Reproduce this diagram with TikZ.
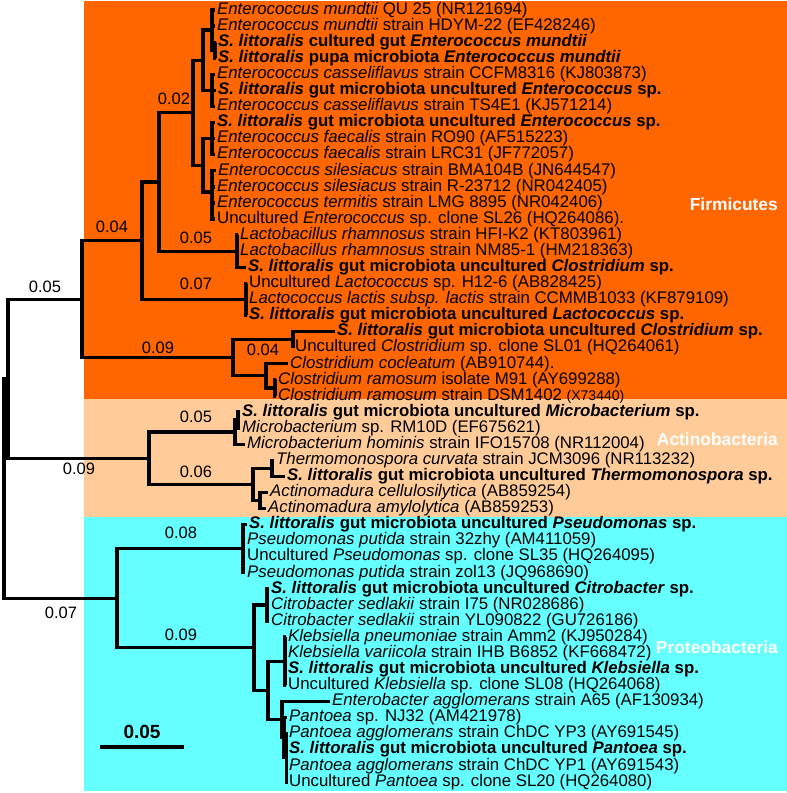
\documentclass[tikz,border=0pt]{standalone}
\usepackage{fontspec}
\setmainfont{Liberation Sans}
\definecolor{firmc}{HTML}{FF6600}
\definecolor{actc}{HTML}{FFCC99}
\definecolor{protc}{HTML}{66FFFF}
\newcommand\slgut[1]{\textbf{\textit{S. littoralis} gut microbiota uncultured \textit{#1} sp.}}
\begin{document}
\begin{tikzpicture}[x=1pt,y=-1pt,
  leaf/.style={anchor=west,inner xsep=2pt,inner ysep=0pt,text height=12pt,text depth=3.5pt,font=\fontsize{16.8}{16.8}\selectfont},
  blab/.style={inner sep=0pt,text height=11.8pt,text depth=0pt,font=\fontsize{16.5}{16.5}\selectfont},
  br/.style={line width=3.3pt,black},
  grp/.style={anchor=east,text=white,inner sep=0pt,text height=12.5pt,text depth=0pt,font=\fontsize{17.4}{17.4}\selectfont\bfseries}]
\useasboundingbox (0,0) rectangle (787,793);
\fill[white] (0,0) rectangle (787,793);
\fill[firmc] (84,1) rectangle (787,399);
\fill[actc] (84,399) rectangle (787,517);
\fill[protc] (84,517) rectangle (787,791);

% leaves
\node[leaf] (t1) at (215,10.0) {\textit{Enterococcus mundtii} QU 25 (NR121694)};
\node[leaf] (t2) at (215,26.08) {\textit{Enterococcus mundtii} strain HDYM-22 (EF428246)};
\node[leaf] (t3) at (216,42.16) {\textbf{\textit{S. littoralis} cultured gut \textit{Enterococcus mundtii}}};
\node[leaf] (t4) at (216,58.24) {\textbf{\textit{S. littoralis} pupa microbiota \textit{Enterococcus mundtii}}};
\node[leaf] (t5) at (215,74.32) {\textit{Enterococcus casseliflavus} strain CCFM8316 (KJ803873)};
\node[leaf] (t6) at (216,90.4) {\slgut{Enterococcus}};
\node[leaf] (t7) at (215,106.48) {\textit{Enterococcus casseliflavus} strain TS4E1 (KJ571214)};
\node[leaf] (t8) at (215,122.56) {\slgut{Enterococcus}};
\node[leaf] (t9) at (215,138.64) {\textit{Enterococcus faecalis} strain RO90 (AF515223)};
\node[leaf] (t10) at (215,154.72) {\textit{Enterococcus faecalis} strain LRC31 (JF772057)};
\node[leaf] (t11) at (216,170.8) {\textit{Enterococcus silesiacus} strain BMA104B (JN644547)};
\node[leaf] (t12) at (215,186.88) {\textit{Enterococcus silesiacus} strain R-23712 (NR042405)};
\node[leaf] (t13) at (215,202.96) {\textit{Enterococcus termitis} strain LMG 8895 (NR042406)};
\node[leaf] (t14) at (215,219.04) {Uncultured \textit{Enterococcus} sp. clone SL26 (HQ264086).};
\node[leaf] (t15) at (238,235.12) {\textit{Lactobacillus rhamnosus} strain HFI-K2 (KT803961)};
\node[leaf] (t16) at (238,251.2) {\textit{Lactobacillus rhamnosus} strain NM85-1 (HM218363)};
\node[leaf] (t17) at (246,267.28) {\slgut{Clostridium}};
\node[leaf] (t18) at (247,283.36) {Uncultured \textit{Lactococcus} sp. H12-6 (AB828425)};
\node[leaf] (t19) at (247,299.44) {\textit{Lactococcus lactis subsp. lactis} strain CCMMB1033 (KF879109)};
\node[leaf] (t20) at (247,315.52) {\slgut{Lactococcus}};
\node[leaf] (t21) at (335,331.6) {\slgut{Clostridium}};
\node[leaf] (t22) at (293,347.68) {Uncultured \textit{Clostridium} sp. clone SL01 (HQ264061)};
\node[leaf] (t23) at (288,363.76) {\textit{Clostridium cocleatum} (AB910744).};
\node[leaf] (t24) at (276,379.84) {\textit{Clostridium ramosum} isolate M91 (AY699288)};
\node[leaf] (t25) at (276,395.92) {\textit{Clostridium ramosum} strain DSM1402 {\fontsize{14}{14}\selectfont (X73440)}};
\node[leaf] (t26) at (240,412.0) {\slgut{Microbacterium}};
\node[leaf] (t27) at (240,428.08) {\textit{Microbacterium} sp. RM10D (EF675621)};
\node[leaf] (t28) at (245,444.16) {\textit{Microbacterium hominis} strain IFO15708 (NR112004)};
\node[leaf] (t29) at (274,460.24) {\textit{Thermomonospora curvata} strain JCM3096 (NR113232)};
\node[leaf] (t30) at (285,476.32) {\slgut{Thermomonospora}};
\node[leaf] (t31) at (268,492.4) {\textit{Actinomadura cellulosilytica} (AB859254)};
\node[leaf] (t32) at (266,508.48) {\textit{Actinomadura amylolytica} (AB859253)};
\node[leaf] (t33) at (247,524.56) {\slgut{Pseudomonas}};
\node[leaf] (t34) at (245,540.64) {\textit{Pseudomonas putida} strain 32zhy (AM411059)};
\node[leaf] (t35) at (245,556.72) {Uncultured \textit{Pseudomonas} sp. clone SL35 (HQ264095)};
\node[leaf] (t36) at (245,572.8) {\textit{Pseudomonas putida} strain zol13 (JQ968690)};
\node[leaf] (t37) at (269,588.88) {\slgut{Citrobacter}};
\node[leaf] (t38) at (269,604.96) {\textit{Citrobacter sedlakii} strain I75 (NR028686)};
\node[leaf] (t39) at (269,621.04) {\textit{Citrobacter sedlakii} strain YL090822 (GU726186)};
\node[leaf] (t40) at (286,637.12) {\textit{Klebsiella pneumoniae} strain Amm2 (KJ950284)};
\node[leaf] (t41) at (286,653.2) {\textit{Klebsiella variicola} strain IHB B6852 (KF668472)};
\node[leaf] (t42) at (286,669.28) {\slgut{Klebsiella}};
\node[leaf] (t43) at (286,685.36) {Uncultured \textit{Klebsiella} sp. clone SL08 (HQ264068)};
\node[leaf] (t44) at (330,701.44) {\textit{Enterobacter agglomerans} strain A65 (AF130934)};
\node[leaf] (t45) at (287,717.52) {\textit{Pantoea} sp. NJ32 (AM421978)};
\node[leaf] (t46) at (287,733.6) {\textit{Pantoea agglomerans} strain ChDC YP3 (AY691545)};
\node[leaf] (t47) at (287,749.68) {\slgut{Pantoea}};
\node[leaf] (t48) at (287,765.76) {\textit{Pantoea agglomerans} strain ChDC YP1 (AY691543)};
\node[leaf] (t49) at (287,781.84) {Uncultured \textit{Pantoea} sp. clone SL20 (HQ264080)};

% internal nodes
\coordinate (Mu2) at (215,50.2);
\coordinate (Mu) at (212,30.1);
\coordinate (Ca) at (212,90.4);
\coordinate (C1) at (203,60.25);
\coordinate (Fa) at (212,138.64);
\coordinate (Si) at (212,192);
\coordinate (C2) at (203,165.3);
\coordinate (C) at (193,112.8);
\coordinate (Lb) at (237,251.2);
\coordinate (B) at (159,182);
\coordinate (Lc) at (246,299.44);
\coordinate (A) at (142,240.7);
\coordinate (E) at (293,339.6);
\coordinate (G) at (275,387.9);
\coordinate (Fc) at (266,375.8);
\coordinate (D) at (233,357.7);
\coordinate (F0) at (82,299.2);
\coordinate (I2) at (238,420);
\coordinate (I) at (235,432.1);
\coordinate (K) at (272,468.3);
\coordinate (L) at (260,500.4);
\coordinate (J) at (253,484.4);
\coordinate (H) at (149,458.3);
\coordinate (n1) at (8,378.7);
\coordinate (Q) at (243,548.7);
\coordinate (Ci) at (267,604.96);
\coordinate (T) at (285,661.2);
\coordinate (W) at (286.5,757.7);
\coordinate (V) at (284,737.6);
\coordinate (U) at (282,719.5);
\coordinate (S) at (268,690.4);
\coordinate (R) at (254,647.7);
\coordinate (Pr) at (117,598.2);
\coordinate (root) at (4,488.5);

% branches
\draw[br] (n1) -| (root) |- (Pr);
\draw[br] (F0) -| (n1) |- (H);
\draw[br] (A) -| (F0) |- (D);
\draw[br] (B) -| (A) |- (Lc);
\draw[br] (C) -| (B) |- (Lb);
\draw[br] (C1) -| (C) |- (C2);
\draw[br] (Mu) -| (C1) |- (Ca);
\draw[br] (t1.west) -| (Mu) |- (Mu2);
\draw[br] (Mu |- t2.west) -- (t2.west);
\draw[br] (t3.west) -| (Mu2) |- (t4.west);
\draw[br] (t5.west) -| (Ca) |- (t7.west);
\draw[br] (Ca) -- (t6.west);
\draw[br] (Fa) -| (C2) |- (Si);
\draw[br] (t8.west) -| (Fa) |- (t10.west);
\draw[br] (Fa) -- (t9.west);
\draw[br] (t11.west) -| (Si) |- (t14.west);
\draw[br] (Si |- t12.west) -- (t12.west);
\draw[br] (Si |- t13.west) -- (t13.west);
\draw[br] (t15.west) -| (Lb) |- (t17.west);
\draw[br] (Lb) -- (t16.west);
\draw[br] (t18.west) -| (Lc) |- (t20.west);
\draw[br] (Lc) -- (t19.west);
\draw[br] (E) -| (D) |- (Fc);
\draw[br] (t21.west) -| (E) |- (t22.west);
\draw[br] (t23.west) -| (Fc) |- (G);
\draw[br] (t24.west) -| (G) |- (t25.west);
\draw[br] (I) -| (H) |- (J);
\draw[br] (I2) -| (I) |- (t28.west);
\draw[br] (t26.west) -| (I2) |- (t27.west);
\draw[br] (K) -| (J) |- (L);
\draw[br] (t29.west) -| (K) |- (t30.west);
\draw[br] (t31.west) -| (L) |- (t32.west);
\draw[br] (Q) -| (Pr) |- (R);
\draw[br] (t33.west) -| (Q) |- (t36.west);
\draw[br] (Q |- t34.west) -- (t34.west);
\draw[br] (Q |- t35.west) -- (t35.west);
\draw[br] (Ci) -| (R) |- (S);
\draw[br] (t37.west) -| (Ci) |- (t39.west);
\draw[br] (Ci) -- (t38.west);
\draw[br] (T) -| (S) |- (U);
\draw[br] (t40.west) -| (T) |- (t43.west);
\draw[br] (T |- t41.west) -- (t41.west);
\draw[br] (T |- t42.west) -- (t42.west);
\draw[br] (t44.west) -| (U) |- (V);
\draw[br] (t45.west) -| (V) |- (W);
\draw[br] (t46.west) -| (W) |- (t49.west);
\draw[br] (W |- t47.west) -- (t47.west);
\draw[br] (W |- t48.west) -- (t48.west);

% branch lengths
\node[blab] (b1) at (45,287) {0.05};
\node[blab] (b2) at (112,227) {0.04};
\node[blab] (b3) at (174,99) {0.02};
\node[blab] (b4) at (196,238) {0.05};
\node[blab] (b5) at (196,284) {0.07};
\node[blab] (b6) at (158,348) {0.09};
\node[blab] (b7) at (263,350) {0.04};
\node[blab] (b8) at (79,469) {0.09};
\node[blab] (b9) at (196,417) {0.05};
\node[blab] (b10) at (196,472) {0.06};
\node[blab] (b11) at (181,533) {0.08};
\node[blab] (b12) at (181,635) {0.09};
\node[blab] (b13) at (61,613) {0.07};

% group labels
\node[grp] (gF) at (778,204) {Firmicutes};
\node[grp] (gA) at (778,439) {Actinobacteria};
\node[grp] (gP) at (778,647) {Proteobacteria};

% scale bar
\coordinate (sb1) at (100,747);
\coordinate (sb2) at (184,747);
\draw[br] (sb1) -- (sb2);
\node[inner sep=0pt,text height=13.6pt,text depth=0pt,font=\fontsize{19}{19}\selectfont\bfseries] (sbl) at (142,732) {0.05};
\end{tikzpicture}
\end{document}
